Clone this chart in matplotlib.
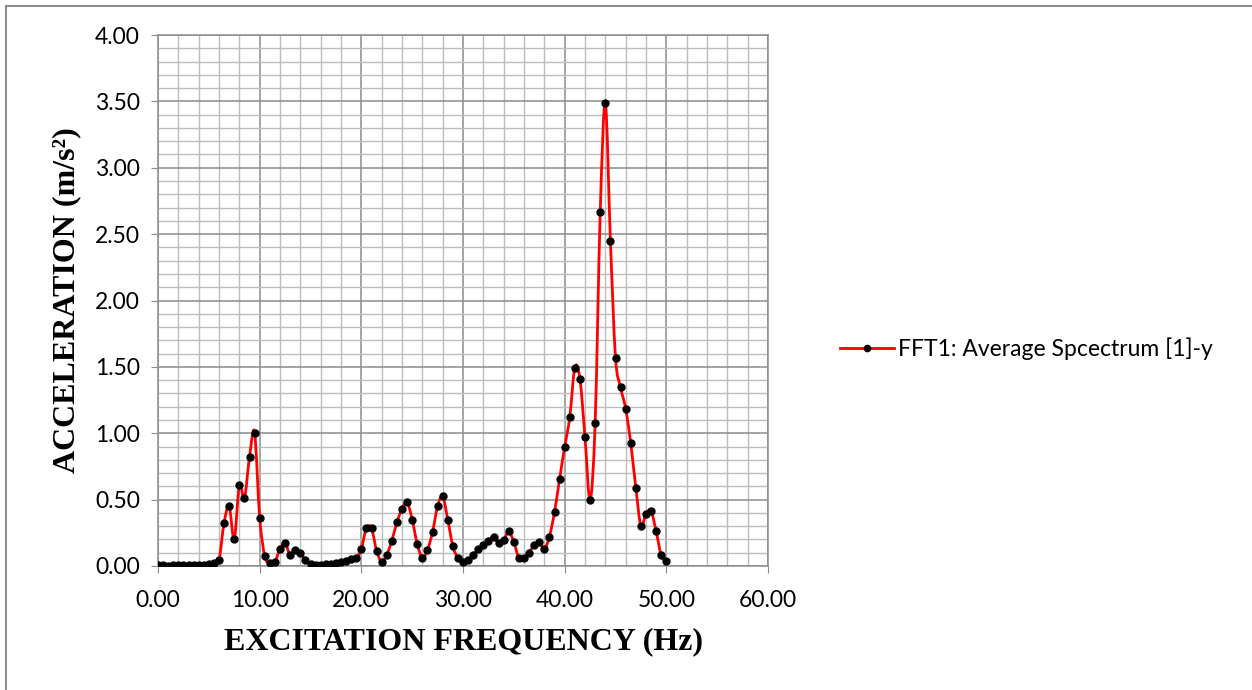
import numpy as np
import matplotlib
matplotlib.use("Agg")
import matplotlib.pyplot as plt
from matplotlib.path import Path
from matplotlib.patches import PathPatch
from matplotlib.lines import Line2D
from matplotlib.ticker import MultipleLocator, FormatStrFormatter

# frequency bins (Hz), 0.5 Hz step
freq = np.arange(0, 50.01, 0.5)

# acceleration (m/s^2) at each bin
accel = [
	0.010, 0.010, 0.000, 0.005, 0.005, 0.005, 0.005, 0.005, 0.005, 0.010,
	0.015, 0.025, 0.045, 0.325, 0.450, 0.200, 0.610, 0.510, 0.820, 1.005,
	0.365, 0.074, 0.020, 0.030, 0.130, 0.170, 0.085, 0.117, 0.100, 0.045,
	0.015, 0.010, 0.010, 0.012, 0.015, 0.020, 0.030, 0.040, 0.055, 0.060,
	0.130, 0.285, 0.285, 0.115, 0.030, 0.085, 0.190, 0.330, 0.430, 0.480,
	0.350, 0.165, 0.062, 0.120, 0.255, 0.450, 0.525, 0.350, 0.150, 0.057,
	0.030, 0.045, 0.085, 0.125, 0.155, 0.190, 0.220, 0.170, 0.195, 0.260,
	0.180, 0.060, 0.060, 0.100, 0.160, 0.178, 0.128, 0.222, 0.405, 0.655,
	0.898, 1.120, 1.495, 1.410, 0.970, 0.495, 1.080, 2.670, 3.490, 2.450,
	1.570, 1.345, 1.185, 0.925, 0.590, 0.300, 0.395, 0.415, 0.260, 0.080,
	0.040,
]

series_name = "FFT1: Average Spcectrum [1]-y"
x_label = "EXCITATION FREQUENCY (Hz)"
y_label = "ACCELERATION (m/s\u00b2)"


def smooth_path(x, y, t=1 / 6):
	"""Bezier path through the points, like a spreadsheet 'smoothed line'."""
	x = np.asarray(x, float)
	y = np.asarray(y, float)
	verts = [(x[0], y[0])]
	codes = [Path.MOVETO]
	n = len(x)
	for i in range(n - 1):
		x0, y0 = (x[i - 1], y[i - 1]) if i > 0 else (x[i], y[i])
		x3, y3 = (x[i + 2], y[i + 2]) if i + 2 < n else (x[i + 1], y[i + 1])
		c1 = (x[i] + t * (x[i + 1] - x0), y[i] + t * (y[i + 1] - y0))
		c2 = (x[i + 1] - t * (x3 - x[i]), y[i + 1] - t * (y3 - y[i]))
		verts += [c1, c2, (x[i + 1], y[i + 1])]
		codes += [Path.CURVE4] * 3
	return Path(verts, codes)


fig = plt.figure(figsize=(12.52, 6.90), dpi=100)
ax = fig.add_axes([158 / 1252, 1 - 566 / 690, 610 / 1252, 531 / 690])

tick_font = "Lato"
tick_size = 16.5

ax.set_xlim(0, 60)
ax.set_ylim(0, 4)
ax.xaxis.set_major_locator(MultipleLocator(10))
ax.xaxis.set_minor_locator(MultipleLocator(2))
ax.yaxis.set_major_locator(MultipleLocator(0.5))
ax.yaxis.set_minor_locator(MultipleLocator(0.1))
ax.xaxis.set_major_formatter(FormatStrFormatter("%.2f"))
ax.yaxis.set_major_formatter(FormatStrFormatter("%.2f"))

ax.grid(which="major", color="#8c8c8c", lw=1.1)
ax.grid(which="minor", color="#bdbdbd", lw=1.0)
ax.set_axisbelow(True)
for s in ax.spines.values():
	s.set_color("#8c8c8c")
	s.set_linewidth(1.1)

ax.tick_params(which="major", direction="out", length=5, color="#8c8c8c",
	labelsize=tick_size)
ax.tick_params(axis="x", which="major", pad=12)
ax.tick_params(axis="y", which="major", pad=8)
ax.tick_params(which="minor", length=0)
for lab in ax.get_xticklabels() + ax.get_yticklabels():
	lab.set_fontfamily(tick_font)

ax.add_patch(PathPatch(smooth_path(freq, accel), facecolor="none",
	edgecolor="red", lw=2, zorder=3, transform=ax.transData))
ax.plot(freq, accel, "o", color="black", ms=5, zorder=4)

ax.set_xlabel(x_label, fontfamily="Liberation Serif", fontweight="bold",
	fontsize=23, labelpad=12)
ax.set_ylabel(y_label, fontfamily="Liberation Serif", fontweight="bold",
	fontsize=23, labelpad=10)

handle = Line2D([], [], color="red", lw=2, marker="o", mfc="black",
	mec="black", ms=4.5)
ax.legend([handle], [series_name], loc="center left",
	bbox_to_anchor=(1.084, 0.41), frameon=False, handlelength=2.35,
	handletextpad=0.2, prop={"family": tick_font, "size": tick_size})

# chart border (top and left edges visible)
fig.add_artist(Line2D([6 / 1252, 1], [1 - 6 / 690, 1 - 6 / 690],
	transform=fig.transFigure, color="#8c8c8c", lw=1.5))
fig.add_artist(Line2D([6 / 1252, 6 / 1252], [0, 1 - 6 / 690],
	transform=fig.transFigure, color="#8c8c8c", lw=1.5))

fig.savefig("out.png", dpi=100)
